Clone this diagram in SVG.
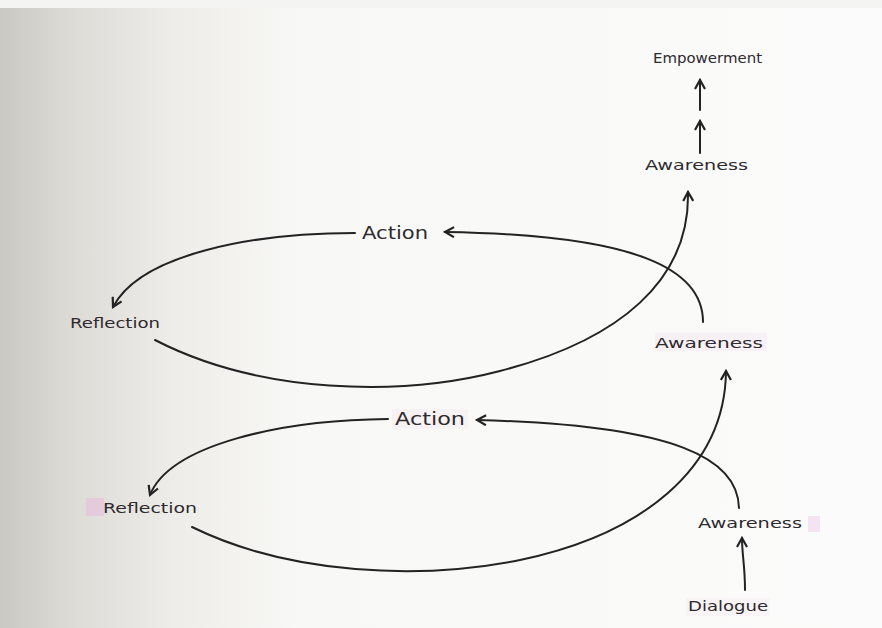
<svg xmlns="http://www.w3.org/2000/svg" width="882" height="628" viewBox="0 0 882 628">
<defs>
<linearGradient id="bg" x1="0" y1="0" x2="1" y2="0">
<stop offset="0" stop-color="#cac8c2"/>
<stop offset="0.08" stop-color="#dddbd6"/>
<stop offset="0.2" stop-color="#eeede9"/>
<stop offset="0.34" stop-color="#f8f8f6"/>
<stop offset="1" stop-color="#fbfbfb"/>
</linearGradient>
<marker id="ah" viewBox="0 0 12 12" refX="10" refY="6" markerWidth="12" markerHeight="12" markerUnits="userSpaceOnUse" orient="auto">
<path d="M1,1 L10,6 L1,11" fill="none" stroke="#222" stroke-width="2.2" stroke-linejoin="miter"/>
</marker>
</defs>
<style>
.lbl{font-family:"DejaVu Sans","Liberation Sans",sans-serif;fill:#2e2a2e}
.hl{fill:#e9b6dc}
.con{fill:none;stroke:#232323;stroke-width:2;stroke-linecap:round}
</style>
<rect width="882" height="628" fill="url(#bg)"/>
<rect x="0" y="0" width="882" height="8" fill="#f4f4f2"/>

<g id="highlights">
<rect class="hl" x="86" y="498" width="18" height="18" style="opacity:0.5"/>
<rect class="hl" x="655" y="333" width="112" height="18" style="opacity:0.12"/>
<rect class="hl" x="392" y="409" width="76" height="20" style="opacity:0.1"/>
<rect class="hl" x="808" y="516" width="12" height="16" style="opacity:0.35"/>
<rect class="hl" x="686" y="598" width="84" height="18" style="opacity:0.1"/>
</g>

<g id="connectors">
<line class="con" x1="700" y1="153" x2="700" y2="121" marker-end="url(#ah)"/>
<line class="con" x1="700" y1="110" x2="700" y2="80" marker-end="url(#ah)"/>
<path class="con" d="M355,233 C250,233 140,255 113,307" marker-end="url(#ah)"/>
<path class="con" d="M155,340 C260,394 400,397 500,371 C620,340 690,280 688,192" marker-end="url(#ah)"/>
<path class="con" d="M703,322 C703,270 640,235 445,232" marker-end="url(#ah)"/>
<path class="con" d="M388,419 C280,420 170,445 150,495" marker-end="url(#ah)"/>
<path class="con" d="M192,527 C290,575 420,580 520,560 C640,535 725,470 726,371" marker-end="url(#ah)"/>
<path class="con" d="M739,508 C738,460 680,425 477,420" marker-end="url(#ah)"/>
<path class="con" d="M745,590 C745,565 742,555 742,538" marker-end="url(#ah)"/>
</g>

<g id="empowerment"><text class="lbl" x="653" y="63" font-size="14" textLength="109" lengthAdjust="spacingAndGlyphs">Empowerment</text></g>
<g id="awareness-top"><text class="lbl" x="645" y="170" font-size="14" textLength="103" lengthAdjust="spacingAndGlyphs">Awareness</text></g>
<g id="action-top"><text class="lbl" x="362" y="239" font-size="18" textLength="66" lengthAdjust="spacingAndGlyphs">Action</text></g>
<g id="reflection-top"><text class="lbl" x="70" y="328" font-size="14" textLength="90" lengthAdjust="spacingAndGlyphs">Reflection</text></g>
<g id="awareness-mid"><text class="lbl" x="655" y="348" font-size="14" textLength="108" lengthAdjust="spacingAndGlyphs">Awareness</text></g>
<g id="action-bottom"><text class="lbl" x="395" y="425" font-size="18" textLength="70" lengthAdjust="spacingAndGlyphs">Action</text></g>
<g id="reflection-bottom"><text class="lbl" x="103" y="513" font-size="14" textLength="94" lengthAdjust="spacingAndGlyphs">Reflection</text></g>
<g id="awareness-bottom"><text class="lbl" x="698" y="528" font-size="14" textLength="104" lengthAdjust="spacingAndGlyphs">Awareness</text></g>
<g id="dialogue"><text class="lbl" x="688" y="611" font-size="14" textLength="80" lengthAdjust="spacingAndGlyphs">Dialogue</text></g>
</svg>
